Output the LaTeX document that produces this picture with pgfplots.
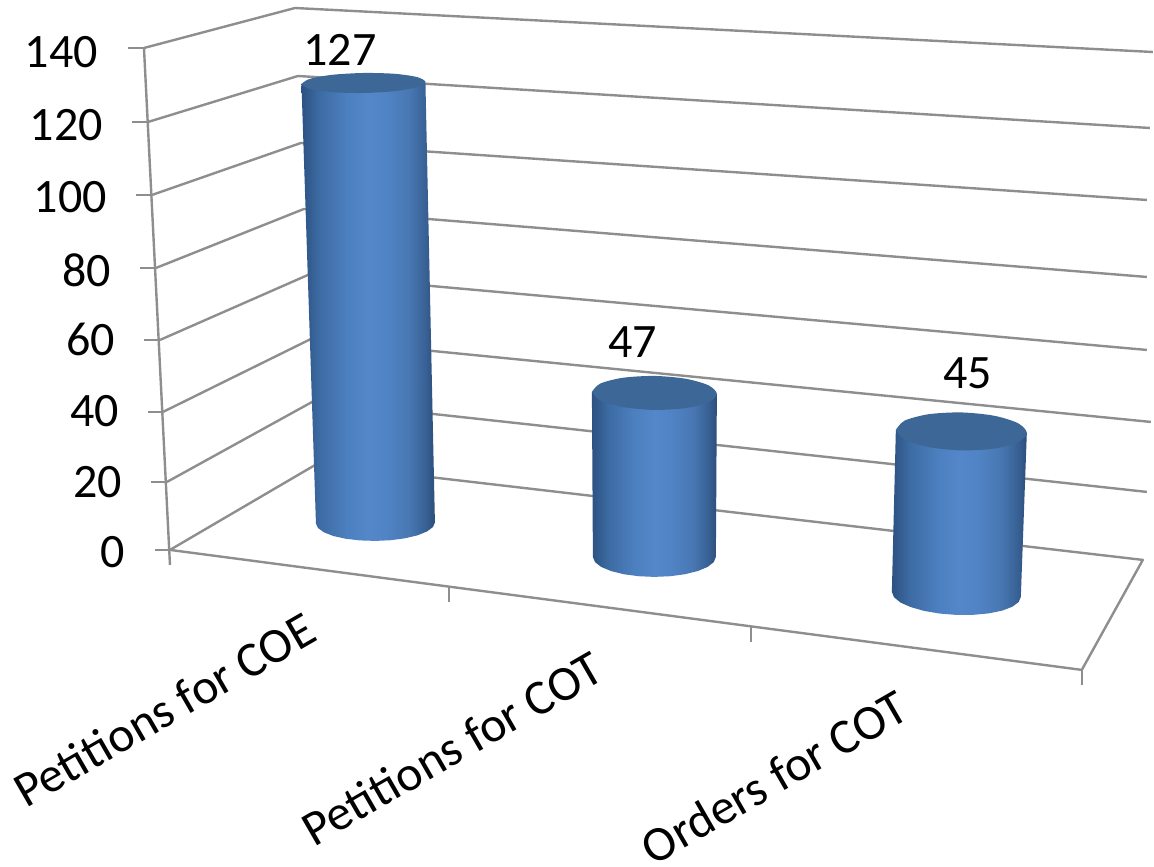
\documentclass[border=0pt]{standalone}
\usepackage{fontspec}
\setmainfont{Carlito}
\usepackage{pgfplots}
\pgfplotsset{compat=1.18}
\definecolor{gridgray}{HTML}{8E8E8E}
\definecolor{topblue}{HTML}{3D6796}
\pgfdeclarehorizontalshading{cyl}{100bp}{
  rgb(0bp)=(0.175,0.320,0.510);
  rgb(25bp)=(0.175,0.320,0.510);
  rgb(32bp)=(0.240,0.425,0.645);
  rgb(42bp)=(0.300,0.500,0.750);
  rgb(50bp)=(0.325,0.530,0.790);
  rgb(57bp)=(0.315,0.515,0.770);
  rgb(65bp)=(0.285,0.470,0.700);
  rgb(71bp)=(0.225,0.390,0.595);
  rgb(75bp)=(0.175,0.305,0.480);
  rgb(100bp)=(0.175,0.305,0.480)}
\tikzset{
  grid line/.style={draw=gridgray, line width=2.4pt, line join=round},
  body/.style={draw=none, shade, shading=cyl},
  disk/.style={draw=none, fill=topblue, smooth},
  lab/.style={font=\fontsize{48}{58}\selectfont, text=black, inner sep=0pt},
  cat/.style={font=\fontsize{49.5}{58}\selectfont, text=black, inner sep=0pt, anchor=east, rotate=30},
}
\begin{document}
\begin{tikzpicture}
\begin{axis}[
  scale only axis, width=1154pt, height=865pt,
  xmin=0, xmax=1154, ymin=0, ymax=865, y dir=reverse,
  hide axis, clip=false,
]
% fixes the picture's extent to the full frame
\path (axis cs:0,0) rectangle (axis cs:1154,865);
% left wall axis and ticks
\addplot[grid line] coordinates {(144,48) (170,565)};
\addplot[grid line] coordinates {(128,48) (144,48)};
\addplot[grid line] coordinates {(132,122) (148,122)};
\addplot[grid line] coordinates {(136,195) (152,195)};
\addplot[grid line] coordinates {(140,268) (156,268)};
\addplot[grid line] coordinates {(144,340) (160,340)};
\addplot[grid line] coordinates {(148,412) (163,412)};
\addplot[grid line] coordinates {(151.5,482) (167,482)};
\addplot[grid line] coordinates {(155,550) (170,550)};
% gridlines: left wall then back wall (140 ... 0)
\addplot[grid line] coordinates {(144,48) (295,8) (1153,52)};
\addplot[grid line] coordinates {(148,122) (298,76) (1150,128)};
\addplot[grid line] coordinates {(152,195) (301,143) (1147,200)};
\addplot[grid line] coordinates {(156,268) (304,209) (1147,277)};
\addplot[grid line] coordinates {(160,340) (308,275) (1147,350)};
\addplot[grid line] coordinates {(163,412) (311,339) (1151,422)};
\addplot[grid line] coordinates {(167,482) (314,401) (1147,492)};
\addplot[grid line] coordinates {(170,550) (317,464) (1143,560) (1082,670) (170,550)};
% floor ticks
\addplot[grid line] coordinates {(449,587) (449,602)};
\addplot[grid line] coordinates {(751,627) (751,642)};
\addplot[grid line] coordinates {(1082,670) (1082,685)};
% cylinder 1: 127
\addplot[body] coordinates {(301.5,84) (316,523.5) (318,528.1) (324,532.4) (333.4,536.1) (345.75,538.85) (360.1,540.5) (375.5,541) (390.9,540.3) (405.25,538.35) (417.6,535.4) (427,531.6) (433,527.2) (435,522.5) (425.5,82)};
\addplot[disk] coordinates {(301.5,84) (309.8,78.9) (332.5,74.8) (363.5,73) (394.5,73.8) (417.2,77.1) (425.5,82) (417.2,87.1) (394.5,91.2) (363.5,93) (332.5,92.2) (309.8,88.9) (301.5,84)};
% cylinder 2: 47
\addplot[body] coordinates {(592,392) (593,557) (595.1,562.2) (601.2,567) (611,571.1) (623.75,574.3) (638.6,576.3) (654.5,577) (670.4,576.3) (685.25,574.3) (698,571.1) (707.8,567) (713.9,562.2) (716,557) (717,394)};
\addplot[disk] coordinates {(592,392) (600.4,383.6) (623.25,377.8) (654.5,376) (685.75,378.8) (708.6,385.4) (717,394) (708.6,402.4) (685.75,408.2) (654.5,410) (623.25,407.2) (600.4,400.6) (592,392)};
% cylinder 3: 45
\addplot[body] coordinates {(896,430) (892,592) (894.2,597.4) (900.6,602.6) (910.9,607.2) (924.25,611) (939.8,613.65) (956.5,615) (973.2,614.95) (988.75,613.5) (1002.1,610.8) (1012.4,606.9) (1018.8,602.2) (1021,597) (1027,433)};
\addplot[disk] coordinates {(896,430) (904.8,420.7) (928.75,414.3) (961.5,412.5) (994.25,415.8) (1018.2,423.3) (1027,433) (1018.2,442.3) (994.25,448.7) (961.5,450.5) (928.75,447.2) (904.8,439.7) (896,430)};
% value labels
\node[lab] at (axis cs:340,50) {127};
\node[lab] at (axis cs:633,342) {47};
\node[lab] at (axis cs:968,373) {45};
% value axis labels
\node[lab,anchor=east] at (axis cs:98,52) {140};
\node[lab,anchor=east] at (axis cs:103,125) {120};
\node[lab,anchor=east] at (axis cs:107,197) {100};
\node[lab,anchor=east] at (axis cs:111,270) {80};
\node[lab,anchor=east] at (axis cs:115,340) {60};
\node[lab,anchor=east] at (axis cs:119,411) {40};
\node[lab,anchor=east] at (axis cs:122,482) {20};
\node[lab,anchor=east] at (axis cs:125,552) {0};
% category labels
\node[cat] at (axis cs:311,625) {Petitions for COE};
\node[cat] at (axis cs:598,664) {Petitions for COT};
\node[cat] at (axis cs:903,703) {Orders for COT};
\end{axis}
\end{tikzpicture}
\end{document}
